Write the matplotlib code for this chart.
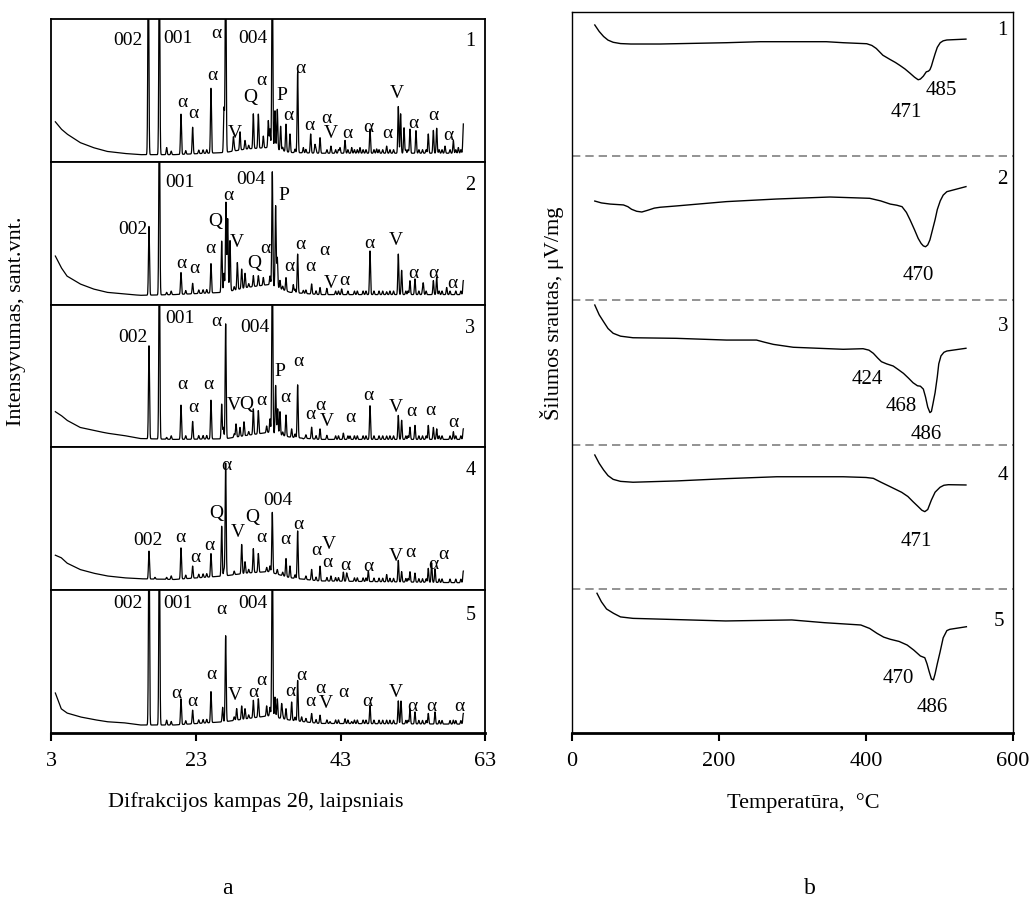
import numpy as np
import matplotlib.pyplot as plt

plt.rcParams['font.family'] = ['Liberation Serif', 'DejaVu Serif']

# ---------------- XRD data (a) ----------------
theta_start = 3.6
theta_end = 59.95
peak_sigma = 0.07

bg_theta = [3.6, 4.4, 5.2, 7.0, 8.8, 10.7, 13.0, 15.3, 20.0, 27.0, 30.0, 33.0, 36.0, 40.0, 60.0]
bg_levels = [
    [0.28, 0.23, 0.195, 0.135, 0.10, 0.073, 0.059, 0.05, 0.05, 0.065, 0.09, 0.10, 0.065, 0.06, 0.06],
    [0.34, 0.26, 0.20, 0.145, 0.11, 0.086, 0.075, 0.065, 0.07, 0.086, 0.12, 0.14, 0.086, 0.07, 0.07],
    [0.25, 0.224, 0.19, 0.14, 0.12, 0.10, 0.084, 0.062, 0.056, 0.06, 0.084, 0.105, 0.072, 0.056, 0.056],
    [0.245, 0.228, 0.19, 0.145, 0.12, 0.10, 0.087, 0.08, 0.075, 0.10, 0.12, 0.13, 0.087, 0.065, 0.052],
    [0.28, 0.17, 0.14, 0.113, 0.095, 0.079, 0.072, 0.056, 0.056, 0.079, 0.10, 0.12, 0.09, 0.067, 0.062],
]

# weak reflections seen in every pattern
weak_pos = [19.6, 21.6, 23.4, 24.0, 24.5, 28.3, 30.3, 35.0, 36.7, 38.2, 39.6, 41.1, 42.3,
            42.7, 44.0, 44.9, 45.3, 46.1, 46.5, 47.6, 48.3, 48.8, 49.8, 50.3, 52.0, 52.3,
            53.8, 54.3, 54.8, 56.6, 57.0, 58.1, 58.9, 59.6]
weak_height = 0.025

peaks_pos = [
    [16.44, 17.96, 18.97, 20.95, 22.56, 25.09, 26.89, 27.12, 28.18, 29.10, 29.79, 30.94, 31.63,
     32.32, 33.01, 33.24, 33.56, 33.93, 34.25, 34.71, 35.45, 36.00, 37.06, 37.84, 38.86, 39.45,
     40.15, 41.66, 42.91, 43.60, 44.52, 45.67, 47.05, 47.97, 49.35, 50.96, 51.28, 51.75, 52.57,
     53.40, 55.10, 55.80, 56.26, 57.41, 58.56, 59.25, 59.94],
    [16.53, 17.96, 18.97, 20.95, 22.56, 25.09, 26.57, 26.89, 27.16, 27.40, 27.72, 28.73, 29.33,
     29.79, 30.94, 31.63, 32.32, 33.24, 33.56, 34.02, 34.25, 34.62, 35.45, 36.46, 37.06, 37.84,
     38.99, 40.15, 41.07, 43.14, 47.05, 49.35, 50.96, 51.42, 52.57, 53.26, 54.41, 55.80, 56.26,
     57.64, 59.94],
    [16.53, 17.96, 18.97, 20.95, 22.56, 25.09, 26.57, 26.80, 27.12, 28.55, 29.10, 29.65, 30.94,
     31.63, 32.78, 33.24, 33.56, 34.02, 34.30, 34.62, 35.45, 36.23, 37.06, 37.84, 38.99, 40.15,
     41.07, 43.37, 44.29, 47.05, 49.35, 50.96, 51.42, 52.57, 53.26, 55.10, 55.80, 56.26, 58.56,
     59.94],
    [16.53, 17.36, 18.97, 20.95, 22.56, 25.09, 26.57, 26.89, 27.12, 29.33, 29.79, 30.94, 31.63,
     32.78, 33.24, 33.56, 34.25, 35.45, 36.00, 37.06, 38.99, 40.15, 41.66, 43.37, 43.83, 46.82,
     49.35, 50.96, 51.42, 52.57, 53.26, 55.10, 55.56, 56.03, 59.94],
    [16.53, 17.96, 18.97, 20.95, 22.56, 25.09, 26.70, 27.12, 28.64, 29.33, 29.79, 30.94, 31.63,
     32.78, 33.24, 33.56, 33.93, 34.25, 34.85, 35.45, 36.23, 37.06, 37.61, 38.99, 40.15, 41.53,
     43.60, 44.52, 47.05, 49.35, 50.96, 51.33, 52.57, 53.26, 55.10, 56.03, 58.56, 59.94],
]
peaks_top = [
    [1.5, 1.5, 0.10, 0.336, 0.242, 0.519, 0.378, 1.5, 0.17, 0.21, 0.15, 0.336, 0.336,
     0.18, 0.29, 0.23, 1.5, 0.36, 0.37, 0.25, 0.265, 0.195, 0.63, 0.10, 0.195, 0.12,
     0.17, 0.11, 0.10, 0.15, 0.10, 0.10, 0.23, 0.09, 0.11, 0.387, 0.336, 0.24, 0.23,
     0.218, 0.195, 0.22, 0.235, 0.11, 0.15, 0.10, 0.265],
    [0.552, 1.5, 0.086, 0.226, 0.149, 0.289, 0.448, 0.22, 0.716, 0.60, 0.448, 0.296, 0.25,
     0.22, 0.203, 0.203, 0.19, 0.20, 0.93, 0.692, 0.33, 0.17, 0.19, 0.14, 0.354, 0.10,
     0.145, 0.12, 0.09, 0.11, 0.378, 0.09, 0.354, 0.24, 0.168, 0.18, 0.145, 0.168, 0.19,
     0.12, 0.168],
    [0.718, 1.5, 0.07, 0.298, 0.182, 0.333, 0.305, 0.14, 0.865, 0.165, 0.14, 0.18, 0.27,
     0.259, 0.15, 0.20, 1.5, 0.434, 0.27, 0.25, 0.228, 0.13, 0.438, 0.06, 0.142, 0.13,
     0.06, 0.10, 0.08, 0.294, 0.08, 0.224, 0.19, 0.142, 0.154, 0.154, 0.14, 0.13, 0.11,
     0.13],
    [0.275, 0.09, 0.09, 0.298, 0.169, 0.258, 0.451, 0.145, 0.89, 0.322, 0.20, 0.291, 0.258,
     0.16, 0.17, 0.545, 0.145, 0.223, 0.17, 0.415, 0.146, 0.169, 0.10, 0.127, 0.12, 0.134,
     0.11, 0.209, 0.13, 0.13, 0.12, 0.153, 0.192, 0.15, 0.134],
    [1.5, 1.5, 0.09, 0.241, 0.16, 0.292, 0.18, 0.681, 0.171, 0.19, 0.171, 0.229, 0.241,
     0.19, 0.18, 1.5, 0.252, 0.24, 0.205, 0.171, 0.218, 0.368, 0.113, 0.137, 0.125, 0.08,
     0.10, 0.08, 0.194, 0.09, 0.225, 0.225, 0.171, 0.148, 0.137, 0.148, 0.09, 0.137],
]

A = 'α'
peak_labels = [
    [(13.68, 0.852, '002'), (20.58, 0.864, '001'), (25.88, 0.899, A), (30.94, 0.864, '004'),
     (21.18, 0.418, A), (22.65, 0.336, A), (25.32, 0.606, A), (30.48, 0.453, 'Q'),
     (32.00, 0.57, A), (34.85, 0.465, 'P'), (35.77, 0.324, A), (37.38, 0.653, A),
     (28.41, 0.195, 'V'), (38.67, 0.254, A), (40.97, 0.30, A), (41.66, 0.195, 'V'),
     (43.97, 0.195, A), (46.82, 0.242, A), (49.49, 0.195, A), (50.73, 0.477, 'V'),
     (53.03, 0.27, A), (55.80, 0.324, A), (57.87, 0.183, A)],
    [(14.37, 0.529, '002'), (20.81, 0.855, '001'), (30.57, 0.879, '004'), (27.49, 0.762, A),
     (35.22, 0.762, 'P'), (25.74, 0.58, 'Q'), (28.64, 0.436, 'V'), (25.05, 0.396, A),
     (20.95, 0.291, A), (22.75, 0.254, A), (31.08, 0.289, 'Q'), (32.55, 0.396, A),
     (35.91, 0.268, A), (37.38, 0.424, A), (38.76, 0.268, A), (40.70, 0.382, A),
     (41.62, 0.145, 'V'), (43.46, 0.168, A), (46.96, 0.429, A), (50.64, 0.448, 'V'),
     (53.03, 0.221, A), (55.80, 0.221, A), (58.42, 0.149, A)],
    [(14.28, 0.772, '002'), (20.81, 0.904, '001'), (25.88, 0.881, A), (31.17, 0.841, '004'),
     (34.62, 0.531, 'P'), (37.15, 0.604, A), (21.18, 0.438, A), (22.65, 0.282, A),
     (24.73, 0.438, A), (28.2, 0.294, 'V'), (30.02, 0.298, 'Q'), (32.0, 0.326, A),
     (35.31, 0.352, A), (38.76, 0.228, A), (40.2, 0.29, A), (41.1, 0.18, 'V'),
     (44.38, 0.212, A), (46.82, 0.364, A), (50.64, 0.282, 'V'), (52.71, 0.252, A),
     (55.33, 0.259, A), (58.56, 0.177, A)],
    [(27.16, 0.873, A), (34.39, 0.627, '004'), (25.88, 0.54, 'Q'), (30.76, 0.51, 'Q'),
     (28.78, 0.404, 'V'), (24.86, 0.31, A), (16.44, 0.35, '002'), (20.81, 0.369, A),
     (22.88, 0.228, A), (32.09, 0.369, A), (35.40, 0.357, A), (37.15, 0.462, A),
     (39.69, 0.279, A), (41.43, 0.322, 'V'), (41.16, 0.192, A), (43.60, 0.176, A),
     (46.82, 0.169, A), (50.64, 0.239, 'V'), (52.67, 0.263, A), (55.80, 0.181, A),
     (57.18, 0.251, A)],
    [(13.68, 0.907, '002'), (20.58, 0.907, '001'), (26.57, 0.866, A), (30.94, 0.907, '004'),
     (25.19, 0.407, A), (20.35, 0.28, A), (22.52, 0.218, A), (28.41, 0.264, 'V'),
     (30.94, 0.287, A), (32.09, 0.368, A), (36.10, 0.292, A), (37.52, 0.403, A),
     (38.76, 0.218, A), (40.24, 0.31, A), (40.97, 0.206, 'V'), (43.37, 0.287, A),
     (46.73, 0.218, A), (50.64, 0.287, 'V'), (52.94, 0.183, A), (55.56, 0.183, A),
     (59.39, 0.183, A)],
]
panel_names = ['1', '2', '3', '4', '5']
panel_name_y = [0.84, 0.832, 0.83, 0.838, 0.82]
xrd_ticks = [3, 23, 43, 63]

# ---------------- DSC data (b) ----------------
dsc_T = [
    [31, 37, 43, 49, 56, 66, 80, 120, 210, 256, 346, 369, 401, 408, 414, 423, 433, 440, 446,
     453, 460, 466, 471, 474, 478, 482, 485, 487, 489, 491, 494, 497, 501, 505, 510, 536],
    [31, 40, 52, 70, 76, 81, 88, 95, 103, 112, 120, 142, 210, 278, 351, 405, 420, 433, 442,
     449, 455, 460, 466, 471, 475, 478, 481, 484, 487, 490, 494, 497, 501, 505, 510, 536],
    [31, 37, 43, 49, 56, 66, 83, 142, 210, 251, 262, 274, 301, 369, 396, 404, 410, 416, 421,
     428, 437, 444, 451, 458, 464, 470, 474, 478, 481, 484, 487, 489, 491, 494, 497, 499,
     502, 506, 510, 536],
    [31, 37, 43, 49, 56, 66, 83, 142, 210, 278.5, 369, 400, 410, 420, 433, 448.6, 457, 464,
     471, 476, 480, 484, 489, 494, 500.7, 506, 512, 536],
    [34, 40, 47, 56.5, 66, 83, 209, 299, 343.5, 393, 405, 415, 424, 433, 445, 456, 465, 474,
     480, 483, 486, 489, 491.7, 494, 497, 500.7, 505, 510, 514, 536.6],
]
dsc_y = [
    [4.91, 4.865, 4.83, 4.805, 4.79, 4.781, 4.778, 4.778, 4.787, 4.794, 4.794, 4.787, 4.78,
     4.768, 4.747, 4.70, 4.67, 4.65, 4.63, 4.605, 4.575, 4.548, 4.53, 4.535, 4.555, 4.585,
     4.59, 4.60, 4.625, 4.66, 4.71, 4.755, 4.787, 4.80, 4.806, 4.812],
    [3.689, 3.676, 3.668, 3.662, 3.65, 3.632, 3.618, 3.613, 3.625, 3.64, 3.646, 3.655, 3.685,
     3.703, 3.717, 3.708, 3.69, 3.668, 3.66, 3.65, 3.61, 3.558, 3.49, 3.43, 3.395, 3.378,
     3.372, 3.385, 3.42, 3.48, 3.56, 3.63, 3.69, 3.73, 3.754, 3.789],
    [2.968, 2.90, 2.852, 2.805, 2.772, 2.752, 2.741, 2.737, 2.725, 2.725, 2.71, 2.695, 2.675,
     2.661, 2.665, 2.655, 2.633, 2.60, 2.575, 2.56, 2.545, 2.52, 2.494, 2.46, 2.429, 2.408,
     2.405, 2.385, 2.33, 2.26, 2.222, 2.23, 2.28, 2.36, 2.47, 2.56, 2.615, 2.64, 2.649,
     2.668],
    [1.928, 1.87, 1.824, 1.785, 1.759, 1.745, 1.739, 1.748, 1.764, 1.777, 1.777, 1.772, 1.766,
     1.74, 1.708, 1.669, 1.64, 1.604, 1.57, 1.545, 1.535, 1.55, 1.616, 1.67, 1.704, 1.718,
     1.722, 1.72],
    [0.969, 0.91, 0.86, 0.830, 0.805, 0.795, 0.777, 0.784, 0.765, 0.749, 0.725, 0.691, 0.665,
     0.65, 0.635, 0.61, 0.575, 0.534, 0.522, 0.48, 0.425, 0.375, 0.368, 0.41, 0.48, 0.56,
     0.66, 0.71, 0.719, 0.737],
]
dsc_labels = [
    (585, 4.87, '1'), (503, 4.459, '485'), (455, 4.30, '471'),
    (586, 3.835, '2'), (471, 3.176, '470'),
    (586, 2.818, '3'), (402, 2.448, '424'), (448.5, 2.263, '468'), (482.5, 2.067, '486'),
    (586, 1.789, '4'), (469, 1.327, '471'),
    (581, 0.772, '5'), (444, 0.379, '470'), (490, 0.178, '486'),
]
dsc_ticks = [0, 200, 400, 600]


def xrd_curve(theta, bg, pos, top):
    base = np.interp(theta, bg_theta, bg)
    y = base.copy()
    for p, t in zip(pos, top):
        amp = t - np.interp(p, bg_theta, bg)
        y += amp * np.exp(-0.5 * ((theta - p) / peak_sigma) ** 2)
    for p in weak_pos:
        y += weak_height * np.exp(-0.5 * ((theta - p) / peak_sigma) ** 2)
    return y


fig = plt.figure(figsize=(10.33, 9.0), dpi=100)
W, H = 1033.0, 900.0

theta = np.arange(theta_start, theta_end, 0.02)

# five stacked XRD panels
x0, x1 = 51, 485.5
top_px, bot_px = 19, 733
ph = (bot_px - top_px) / 5
for i in range(5):
    b = 1 - (top_px + (i + 1) * ph) / H
    ax = fig.add_axes([x0 / W, b, (x1 - x0) / W, ph / H])
    y = xrd_curve(theta, bg_levels[i], peaks_pos[i], peaks_top[i])
    ax.plot(theta, y, color='black', lw=0.9)
    ax.set_xlim(3, 63)
    ax.set_ylim(0, 1)
    ax.set_yticks([])
    for s in ax.spines.values():
        s.set_linewidth(1.3)
    for tx, ty, t in peak_labels[i]:
        ax.text(tx, ty, t, ha='center', va='center', fontsize=14)
    ax.text(60.9, panel_name_y[i], panel_names[i], ha='center', va='center', fontsize=14.5)
    if i < 4:
        ax.set_xticks([])
    else:
        ax.set_xticks(xrd_ticks)
        ax.tick_params(axis='x', direction='out', length=6, width=1.5, labelsize=16, pad=8)
        ax.spines['bottom'].set_linewidth(2.0)

# DSC panel
axr = fig.add_axes([572 / W, 1 - 733 / H, 441 / W, (733 - 12) / H])
for i in range(4):
    axr.axhline(i + 1, color='#808080', lw=1.2, ls=(0, (5, 3)))
for T, yv in zip(dsc_T, dsc_y):
    axr.plot(T, yv, color='black', lw=1.0)
for tx, ty, t in dsc_labels:
    axr.text(tx, ty, t, ha='center', va='center', fontsize=15)
axr.set_xlim(0, 600)
axr.set_ylim(0, 5)
axr.set_yticks([])
axr.set_xticks(dsc_ticks)
axr.tick_params(axis='x', direction='out', length=6, width=1.5, labelsize=16, pad=8)
for s in axr.spines.values():
    s.set_linewidth(1.0)
axr.spines['bottom'].set_linewidth(2.0)

fig.text(17 / W, 1 - 321 / H, 'Intensyvumas, sant.vnt.', rotation=90,
         ha='center', va='center', fontsize=16)
fig.text(552 / W, 1 - 313 / H, 'Šilumos srautas, μV/mg', rotation=90,
         ha='center', va='center', fontsize=16)
fig.text(256 / W, 1 - 802 / H, 'Difrakcijos kampas 2θ, laipsniais',
         ha='center', va='center', fontsize=16)
fig.text(803 / W, 1 - 803 / H, 'Temperatūra,  °C', ha='center', va='center', fontsize=16)
fig.text(227 / W, 1 - 888 / H, 'a', ha='center', va='center', fontsize=17)
fig.text(810 / W, 1 - 888 / H, 'b', ha='center', va='center', fontsize=17)

fig.savefig('out.png', dpi=100)
